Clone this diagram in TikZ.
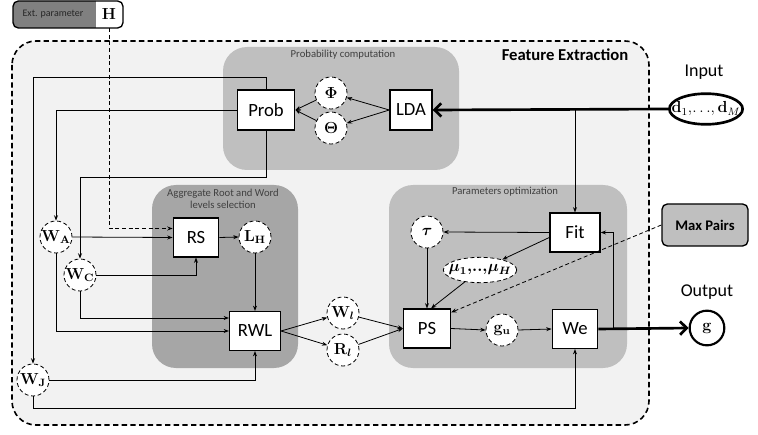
\documentclass[tikz,border=0pt]{standalone}
\usepackage[no-math]{fontspec}
\setmainfont{Carlito}
\usepackage{amsmath,bm}
\usetikzlibrary{arrows.meta,shapes.geometric,calc}
\definecolor{febg}{HTML}{F2F2F2}
\definecolor{panel}{HTML}{BFBFBF}
\definecolor{panelDark}{HTML}{A6A6A6}
\definecolor{extgray}{HTML}{808080}
\definecolor{labgray}{HTML}{404040}
\begin{document}
\begin{tikzpicture}[x=0.75pt,y={(0pt,-0.75pt)},
  box/.style={draw, line width=1.1pt, fill=white, inner sep=0pt, font=\fontsize{14}{16}\selectfont},
  var/.style={circle, draw, densely dashed, line width=0.6pt, fill=white, minimum size=24pt, inner sep=0pt, font=\fontsize{12}{14}\selectfont},
  conn/.style={line width=0.6pt, -{Stealth[length=4pt,width=3pt]}},
  bigarrow/.style={line width=2pt, -{Straight Barb[length=5pt,width=10pt]}},
  paneltext/.style={text=labgray, font=\fontsize{8}{9.5}\selectfont, align=center}]
\useasboundingbox (0,0) rectangle (758,435);
% Feature extraction frame
\draw[fill=febg, line width=1.2pt, dash pattern=on 4pt off 2.5pt, rounded corners=18pt] (12,41) rectangle (649,425);
% panels
\fill[panel, rounded corners=18pt] (223,47) rectangle (459,170);
\fill[panelDark, rounded corners=18pt] (152,185) rectangle (298,368);
\fill[panel, rounded corners=18pt] (389,185) rectangle (627,368);
\node[font=\bfseries\fontsize{12.5}{15}\selectfont] (fe) at (565,55) {Feature Extraction};
\node[paneltext] (pclab) at (343,55) {Probability computation};
\node[paneltext] (aglab) at (223,199) {Aggregate Root and Word\\levels selection};
\node[paneltext] (polab) at (505,192) {Parameters optimization};
% ext parameter box
\begin{scope}
\clip[rounded corners=4pt] (13,1) rectangle (123,28);
\fill[extgray] (13,0) rectangle (96,29);
\fill[white] (96,0) rectangle (124,29);
\end{scope}
\draw[rounded corners=4pt, line width=1pt] (13,1) rectangle (123,28);
\node[font=\fontsize{7.5}{9}\selectfont, text=black!85] (extlab) at (53,14) {Ext. parameter};
\node[minimum width=20pt, minimum height=20pt, inner sep=0pt, font=\fontsize{13}{15}\selectfont] (H) at (109,14.5) {$\mathbf{H}$};
% nodes
\node[box, minimum width=43pt, minimum height=30pt] (prob) at (266,110) {Prob};
\node[var] (phi) at (331,93) {$\bm{\Phi}$};
\node[var] (theta) at (331,128) {$\bm{\Theta}$};
\node[box, minimum width=31.5pt, minimum height=30pt] (lda) at (411,110) {LDA};
\node[ellipse, draw, line width=2pt, fill=white, minimum width=55pt, minimum height=23pt, inner sep=0pt, font=\fontsize{11.5}{14}\selectfont] (inp) at (706,109) {\makebox[0pt]{$\mathbf{d}_1,\!\ldots\!,\mathbf{d}_M$}};
\node[font=\fontsize{13.5}{16}\selectfont] (inlab) at (704,72) {Input};
\node[var] (wa) at (56,237) {$\mathbf{W}_{\mathbf{A}}$};
\node[var] (wc) at (80,275) {$\mathbf{W}_{\mathbf{C}}$};
\node[var] (wj) at (33,380) {$\mathbf{W}_{\mathbf{J}}$};
\node[box, minimum width=34pt, minimum height=29pt] (rs) at (196,237.5) {RS};
\node[var] (lh) at (255,237) {$\mathbf{L}_{\mathbf{H}}$};
\node[box, minimum width=38pt, minimum height=29pt] (rwl) at (255,331) {RWL};
\node[var] (wl) at (343,313) {$\mathbf{W}_{\bm{l}}$};
\node[var] (rl) at (343,350) {$\mathbf{R}_{\bm{l}}$};
\node[box, minimum width=35pt, minimum height=29pt] (ps) at (427,328.5) {PS};
\node[var] (gu) at (502,330) {$\mathbf{g}_{\mathbf{u}}$};
\node[box, minimum width=34pt, minimum height=29pt] (we) at (575,329) {We};
\node[box, minimum width=37.5pt, minimum height=29pt] (fit) at (575,232.5) {Fit};
\node[var] (tau) at (427,232) {$\bm{\tau}$};
\node[ellipse, draw, densely dashed, line width=0.6pt, fill=white, minimum width=55pt, minimum height=19pt, inner sep=0pt, font=\fontsize{11.5}{14}\selectfont] (mu) at (480,270) {\makebox[0pt]{$\bm{\mu_1,\!..,\!\mu_H}$}};
\node[circle, draw, line width=1.6pt, fill=white, minimum size=26pt, inner sep=0pt, font=\fontsize{12}{14}\selectfont] (g) at (707,328) {$\mathbf{g}$};
\node[font=\fontsize{13.5}{16}\selectfont] (outlab) at (707,292) {Output};
\node[draw, line width=1pt, fill=panel, rounded corners=4pt, minimum width=64.5pt, minimum height=31.5pt, font=\bfseries\fontsize{11}{13}\selectfont] (maxp) at (705,225) {Max Pairs};
% connectors
\draw[conn] (prob.north) -- ++(0,-12) -| (wj.north);
\draw[conn] (prob.west) -| (wa.north);
\draw[conn] (prob.south) -- ++(0,47) -| (wc.north);
\draw[conn] (lda.west) -- (phi);
\draw[conn] (lda.west) -- (theta);
\draw[conn] (phi) -- (prob.east);
\draw[conn] (theta) -- (prob.east);
\draw[bigarrow] (inp.west) -- (lda.east);
\coordinate (tap) at (fit.north |- inp.west);
\draw[conn] (tap) -- (fit.north);
\draw[conn, densely dashed] (H.south) |- ([yshift=6.75pt]rs.west);
\draw[conn] (wa.east) -- (rs.west);
\draw[conn] (wa.south) |- (rwl.west);
\draw[conn] (wc.south) |- ([yshift=9.75pt]rwl.west);
\draw[conn] (wc.east) -| (rs.south);
\draw[conn] (rs.east) -- (lh.west);
\draw[conn] (lh.south) -- (rwl.north);
\draw[conn] (wj.east) -| (rwl.south);
\draw[conn] (wj.south) -- ++(0,12) -| (we.south);
\draw[conn] (rwl.east) -- (wl);
\draw[conn] (rwl.east) -- (rl);
\draw[conn] (wl) -- (ps.west);
\draw[conn] (rl) -- (ps.west);
\draw[conn] (fit.west) -- (tau.east);
\draw[conn] ([yshift=-3.75pt]fit.west) -- (mu);
\draw[conn] (tau.south) -- (ps.north);
\draw[conn] (mu) -- ([xshift=3pt]ps.north);
\draw[conn] (ps.east) -- (gu.west);
\draw[conn] (gu.east) -- (we.west);
\draw[line width=0.6pt, densely dashed, -{Stealth[length=4pt,width=3pt]}] (maxp.west) -- ([yshift=-3pt]ps.north east);
\draw[bigarrow] (we.east) -- (g.west);
\coordinate (fb) at ([xshift=11.25pt]we.east);
\draw[conn] (fb) |- (fit.east);
\end{tikzpicture}
\end{document}
